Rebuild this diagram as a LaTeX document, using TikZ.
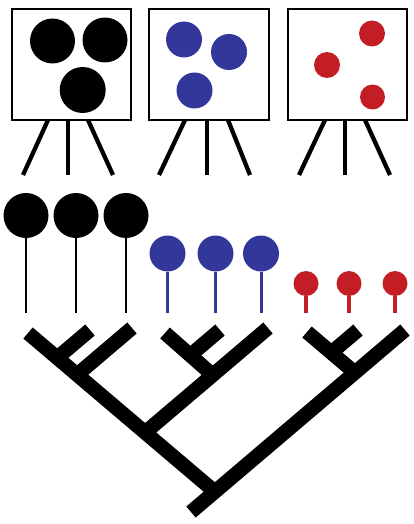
\documentclass[tikz,border=0pt]{standalone}
\usepackage{xcolor}
\usepackage{tikz}
\definecolor{dotblue}{RGB}{52,55,154}
\definecolor{dotred}{RGB}{195,30,37}
\tikzset{
  frame/.style={draw, line width=2.3pt, minimum width=119pt, minimum height=111pt, inner sep=0pt, outer sep=0pt},
  dot/.style={circle, inner sep=0pt, outer sep=0pt},
  dotk/.style={dot, fill=black},
  dotb/.style={dot, fill=dotblue},
  dotr/.style={dot, fill=dotred},
  leg/.style={line width=4.3pt},
  stickk/.style={line width=2.3pt},
  stickb/.style={line width=3pt, dotblue},
  stickr/.style={line width=3.5pt, dotred},
  branch/.style={line width=14.5pt, line cap=butt},
}
\begin{document}
\begin{tikzpicture}[x=1pt, y=-1pt]
\useasboundingbox (0,0) rectangle (414,524);
\node[frame] (box1) at (71.5,64.5) {};
\node[frame, minimum width=120pt] (box2) at (209,64.5) {};
\node[frame] (box3) at (347.5,64.5) {};
\node[dotk, minimum size=45pt] (k1) at (52.5,41) {};
\node[dotk, minimum size=45pt] (k2) at (105,40) {};
\node[dotk, minimum size=46pt] (k3) at (82.7,90) {};
\node[dotb, minimum size=36pt] (u1) at (184,39.5) {};
\node[dotb, minimum size=36pt] (u2) at (229,52) {};
\node[dotb, minimum size=36pt] (u3) at (194.5,90.5) {};
\node[dotr, minimum size=26pt] (r1) at (372,33.5) {};
\node[dotr, minimum size=26pt] (r2) at (327,65) {};
\node[dotr, minimum size=25pt] (r3) at (372.5,97) {};
\coordinate (t11) at (48,120);
\coordinate (t12) at (68,120);
\coordinate (t13) at (88,120);
\coordinate (t21) at (185,120);
\coordinate (t22) at (207,120);
\coordinate (t23) at (228,120);
\coordinate (t31) at (325,120);
\coordinate (t32) at (345,120);
\coordinate (t33) at (365,120);
\coordinate (f11) at (23,175);
\coordinate (f12) at (68,175);
\coordinate (f13) at (113,175);
\coordinate (f21) at (159,175);
\coordinate (f22) at (207,175);
\coordinate (f23) at (250,175);
\coordinate (f31) at (299,175);
\coordinate (f32) at (345,175);
\coordinate (f33) at (390,175);
\draw[leg] (t11) -- (f11);
\draw[leg] (t12) -- (f12);
\draw[leg] (t13) -- (f13);
\draw[leg] (t21) -- (f21);
\draw[leg] (t22) -- (f22);
\draw[leg] (t23) -- (f23);
\draw[leg] (t31) -- (f31);
\draw[leg] (t32) -- (f32);
\draw[leg] (t33) -- (f33);
\node[dotk, minimum size=45pt] (lk1) at (26,215.5) {};
\node[dotk, minimum size=45pt] (lk2) at (76,215.5) {};
\node[dotk, minimum size=45pt] (lk3) at (126,215.5) {};
\node[dotb, minimum size=36pt] (lb1) at (167.5,253.5) {};
\node[dotb, minimum size=36pt] (lb2) at (215.5,253.5) {};
\node[dotb, minimum size=36pt] (lb3) at (261,253.5) {};
\node[dotr, minimum size=25pt] (lr1) at (306,283.5) {};
\node[dotr, minimum size=25pt] (lr2) at (349,283.5) {};
\node[dotr, minimum size=25pt] (lr3) at (395,283.5) {};
\coordinate (sk1) at (26,313);
\coordinate (sk2) at (76,313);
\coordinate (sk3) at (126,313);
\coordinate (sb1) at (167.5,313);
\coordinate (sb2) at (215.5,313);
\coordinate (sb3) at (261,313);
\coordinate (sr1) at (306,313);
\coordinate (sr2) at (349,313);
\coordinate (sr3) at (395,313);
\draw[stickk] (lk1) -- (sk1);
\draw[stickk] (lk2) -- (sk2);
\draw[stickk] (lk3) -- (sk3);
\draw[stickb] (lb1) -- (sb1);
\draw[stickb] (lb2) -- (sb2);
\draw[stickb] (lb3) -- (sb3);
\draw[stickr] (lr1) -- (sr1);
\draw[stickr] (lr2) -- (sr2);
\draw[stickr] (lr3) -- (sr3);
\coordinate (a1) at (28,333);
\coordinate (a2) at (90,330);
\coordinate (a3) at (132,328);
\coordinate (b1) at (165,333);
\coordinate (b2) at (220,330);
\coordinate (b3) at (268,328);
\coordinate (c1) at (307,332);
\coordinate (c2) at (358,330);
\coordinate (c3) at (405,330);
\coordinate (na) at (57.2,357.8);
\coordinate (naa) at (77.1,374.7);
\coordinate (nb) at (190.7,354.9);
\coordinate (nbb) at (213.6,375.8);
\coordinate (nc) at (331.3,352.7);
\coordinate (ncc) at (354.8,372.6);
\coordinate (nkb) at (145.1,432.5);
\coordinate (nroot) at (214.7,491.6);
\coordinate (root) at (191,512);
\draw[branch] (a1) -- (nroot);
\draw[branch] (a2) -- (na);
\draw[branch] (a3) -- (naa);
\draw[branch] (b1) -- (nbb);
\draw[branch] (b2) -- (nb);
\draw[branch] (b3) -- (nkb);
\draw[branch] (c1) -- (ncc);
\draw[branch] (c2) -- (nc);
\draw[branch] (c3) -- (root);
\end{tikzpicture}
\end{document}
